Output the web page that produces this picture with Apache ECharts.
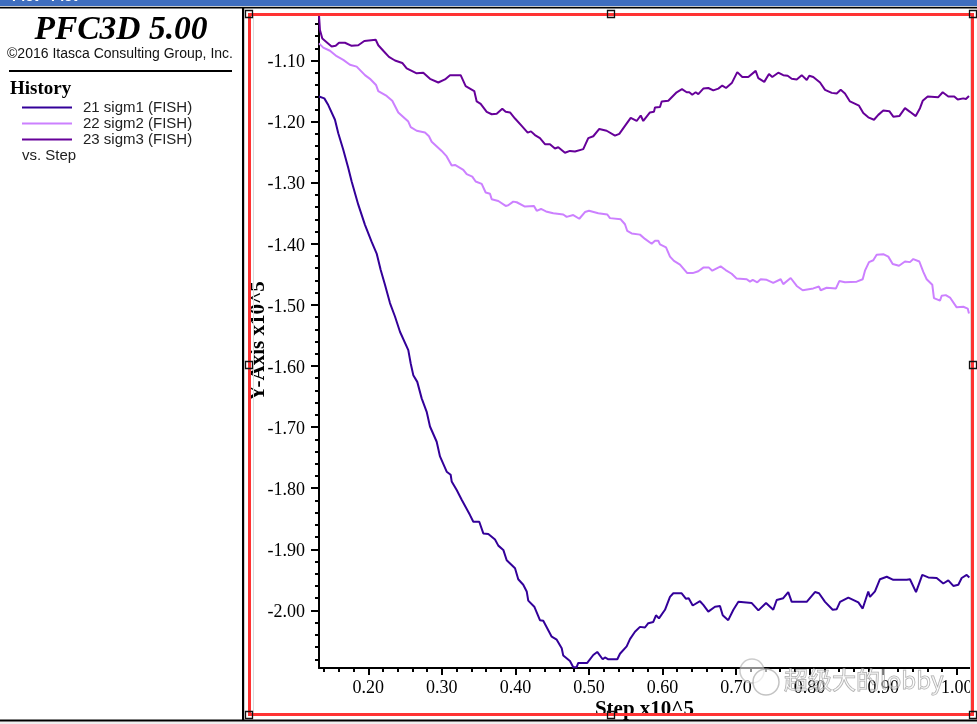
<!DOCTYPE html>
<html><head><meta charset="utf-8">
<style>html,body{margin:0;padding:0;background:#fff}#c{width:977px;height:724px}</style>
<script src="https://cdn.jsdelivr.net/npm/echarts@6/dist/echarts.min.js"></script>
</head><body><div id="c"></div>
<script>
const seriesNames = ['21 sigm1 (FISH)','22 sigm2 (FISH)','23 sigm3 (FISH)'];
const seriesColors = ['#330099','#cc80ff','#660099'];
const xMajorTicks = [0.2,0.3,0.4,0.5,0.6,0.7,0.8,0.9,1.0];
const xMinorTicks = [0.14,0.16,0.18,0.22,0.24,0.26,0.28,0.32,0.34,0.36,0.38,0.42,0.44,0.46,0.48,0.52,0.54,0.56,0.58,0.62,0.64,0.66,0.68,0.72,0.74,0.76,0.78,0.82,0.84,0.86,0.88,0.92,0.94,0.96,0.98,1.0];
const yMajorTicks = [-1.1,-1.2,-1.3,-1.4,-1.5,-1.6,-1.7,-1.8,-1.9,-2.0];
const yMinorTicks = [-1.04,-1.06,-1.08,-1.12,-1.14,-1.16,-1.18,-1.22,-1.24,-1.26,-1.28,-1.32,-1.34,-1.36,-1.38,-1.42,-1.44,-1.46,-1.48,-1.52,-1.54,-1.56,-1.58,-1.62,-1.64,-1.66,-1.68,-1.72,-1.74,-1.76,-1.78,-1.82,-1.84,-1.86,-1.88,-1.92,-1.94,-1.96,-1.98,-2.02,-2.04,-2.06,-2.08];

const sigm1Steps = [.133,.1402,.1456,.1547,.1592,.166,.1728,.1774,.1864,.1955,.2046,.2114,.2169,.2227,.2295,.2363,.2431,.2544,.2577,.2612,.2666,.2726,.2794,.2839,.293,.2975,.3066,.312,.3134,.3202,.327,.3383,.3428,.3509,.3564,.3632,.3723,.3768,.3836,.3882,.3995,.4039,.4107,.4154,.4175,.4257,.4334,.4379,.4494,.4562,.463,.4651,.4742,.4787,.4833,.4855,.4977,.5059,.5113,.5187,.5218,.5264,.5386,.5422,.5513,.5558,.5626,.5694,.5762,.5807,.5875,.5912,.5952,.6034,.6102,.6147,.6261,.632,.6356,.6411,.651,.6555,.6623,.6714,.6782,.6819,.6894,.6964,.7032,.7214,.7304,.7408,.7506,.7553,.7642,.771,.7757,.7961,.8073,.8128,.821,.8314,.8369,.8414,.8527,.8663,.8722,.8798,.8821,.8889,.8957,.9049,.9138,.9321,.9365,.9447,.9532,.9614,.9728,.9818,.9886,.9954,1.0022,1.0068,1.0136,1.0172];
const sigm1Values = [-1.159,-1.162,-1.173,-1.197,-1.219,-1.246,-1.276,-1.298,-1.336,-1.369,-1.397,-1.416,-1.443,-1.467,-1.497,-1.519,-1.544,-1.574,-1.596,-1.615,-1.626,-1.653,-1.675,-1.699,-1.724,-1.748,-1.773,-1.778,-1.789,-1.803,-1.819,-1.844,-1.855,-1.855,-1.874,-1.875,-1.884,-1.894,-1.901,-1.918,-1.931,-1.949,-1.958,-1.969,-1.984,-1.994,-2.016,-2.017,-2.043,-2.048,-2.062,-2.074,-2.083,-2.093,-2.093,-2.086,-2.086,-2.073,-2.068,-2.08,-2.077,-2.08,-2.08,-2.071,-2.059,-2.047,-2.035,-2.027,-2.028,-2.021,-2.019,-2.008,-2.013,-1.999,-1.978,-1.972,-1.972,-1.981,-1.98,-1.992,-1.985,-1.991,-2.002,-1.994,-1.993,-2.008,-2.016,-1.999,-1.986,-1.988,-2,-1.988,-1.999,-1.983,-1.98,-1.97,-1.986,-1.986,-1.97,-1.972,-1.986,-1.999,-1.998,-1.986,-1.979,-1.987,-1.997,-1.969,-1.978,-1.969,-1.949,-1.945,-1.95,-1.95,-1.949,-1.97,-1.942,-1.946,-1.947,-1.956,-1.951,-1.96,-1.958,-1.947,-1.942,-1.946];

const sigm2Steps = [.133,.1388,.1479,.157,.166,.1751,.1842,.1955,.2023,.2105,.2136,.225,.2326,.2408,.2544,.2577,.2658,.2771,.2825,.2862,.2998,.3066,.3134,.3179,.3292,.3338,.3414,.346,.3542,.3596,.3655,.3678,.3768,.3868,.3903,.3971,.4018,.413,.4253,.429,.4348,.4416,.4515,.4651,.4697,.4787,.4869,.4946,.5001,.5127,.525,.5286,.5432,.549,.5521,.5581,.5694,.5762,.5853,.5898,.5943,.5966,.6048,.6102,.6156,.6238,.6337,.6411,.6487,.6555,.6632,.6677,.6791,.6859,.6941,.7009,.7145,.719,.7227,.7289,.7335,.7417,.7506,.7607,.7642,.7743,.7825,.7906,.805,.8128,.8151,.8232,.8359,.8404,.8481,.8641,.8722,.8753,.8808,.8866,.8912,.9002,.907,.913,.9216,.9297,.9365,.941,.9492,.9546,.9592,.9668,.9691,.9773,.9796,.9851,.9909,1,1.009,1.015,1.0167];
const sigm2Values = [-1.072,-1.079,-1.084,-1.093,-1.099,-1.107,-1.11,-1.124,-1.13,-1.14,-1.15,-1.158,-1.166,-1.185,-1.2,-1.209,-1.215,-1.218,-1.224,-1.233,-1.248,-1.257,-1.272,-1.271,-1.279,-1.286,-1.29,-1.298,-1.302,-1.316,-1.318,-1.327,-1.33,-1.338,-1.337,-1.331,-1.332,-1.339,-1.338,-1.346,-1.343,-1.347,-1.35,-1.352,-1.356,-1.353,-1.359,-1.348,-1.346,-1.35,-1.352,-1.358,-1.36,-1.368,-1.379,-1.383,-1.385,-1.392,-1.4,-1.395,-1.395,-1.401,-1.406,-1.421,-1.428,-1.434,-1.448,-1.448,-1.445,-1.439,-1.439,-1.444,-1.437,-1.443,-1.449,-1.457,-1.458,-1.462,-1.459,-1.463,-1.458,-1.459,-1.464,-1.458,-1.466,-1.456,-1.469,-1.476,-1.473,-1.47,-1.476,-1.472,-1.473,-1.461,-1.463,-1.462,-1.458,-1.444,-1.43,-1.427,-1.418,-1.417,-1.421,-1.433,-1.436,-1.429,-1.43,-1.425,-1.429,-1.446,-1.458,-1.467,-1.489,-1.493,-1.485,-1.484,-1.488,-1.504,-1.503,-1.506,-1.514];

const sigm3Steps = [.133,.1343,.1375,.1434,.1502,.1557,.1602,.1683,.1774,.1864,.1946,.2101,.2136,.2204,.2281,.2363,.2462,.2522,.259,.2658,.2748,.2839,.2952,.3043,.3111,.3256,.3324,.3441,.3474,.3528,.361,.3678,.3746,.3822,.3868,.3927,.3995,.4086,.4167,.4212,.4266,.4334,.4402,.447,.4538,.4583,.4674,.4742,.481,.4923,.4991,.5059,.5141,.5241,.5354,.5413,.549,.5568,.5649,.5704,.5739,.583,.5884,.5898,.5966,.5989,.6079,.6193,.6265,.6329,.6364,.6405,.6451,.6487,.6555,.6623,.6691,.6759,.6813,.6864,.6942,.7017,.7085,.7167,.7267,.7303,.7384,.7448,.7493,.7574,.7642,.7702,.7757,.7825,.7893,.7961,.7996,.805,.8142,.821,.8301,.8369,.8423,.8481,.8549,.8672,.873,.8798,.8876,.8934,.9002,.9084,.9138,.922,.9297,.9365,.9443,.9501,.9538,.9606,.975,.981,.9886,.9967,1.0014,1.009,1.0126,1.0167];
const sigm3Values = [-1.0255,-1.05,-1.064,-1.07,-1.077,-1.076,-1.071,-1.071,-1.076,-1.075,-1.068,-1.066,-1.075,-1.084,-1.094,-1.1,-1.104,-1.113,-1.117,-1.121,-1.12,-1.13,-1.136,-1.131,-1.124,-1.124,-1.142,-1.15,-1.167,-1.171,-1.184,-1.188,-1.187,-1.179,-1.184,-1.185,-1.195,-1.207,-1.218,-1.216,-1.222,-1.227,-1.237,-1.237,-1.244,-1.242,-1.251,-1.248,-1.249,-1.245,-1.227,-1.224,-1.212,-1.215,-1.223,-1.22,-1.207,-1.194,-1.199,-1.19,-1.199,-1.185,-1.184,-1.177,-1.176,-1.167,-1.166,-1.152,-1.147,-1.152,-1.152,-1.156,-1.152,-1.155,-1.146,-1.145,-1.149,-1.146,-1.141,-1.145,-1.137,-1.119,-1.127,-1.127,-1.117,-1.129,-1.135,-1.122,-1.127,-1.12,-1.124,-1.125,-1.13,-1.131,-1.124,-1.132,-1.125,-1.127,-1.136,-1.148,-1.153,-1.154,-1.148,-1.154,-1.167,-1.174,-1.186,-1.193,-1.197,-1.189,-1.182,-1.183,-1.192,-1.191,-1.178,-1.184,-1.191,-1.178,-1.166,-1.159,-1.16,-1.152,-1.159,-1.159,-1.164,-1.162,-1.163,-1.158];

const seriesSteps = [sigm1Steps,sigm2Steps,sigm3Steps];
const seriesValues = [sigm1Values,sigm2Values,sigm3Values];

const xRange = [0.133,1.0181], yRange = [-2.0943,-1.0239];
const serif = '"Liberation Serif","Times New Roman",serif';
const sans = '"Liberation Sans",Arial,sans-serif';

function rect(x,y,w,h,fill){return {type:'rect',silent:true,shape:{x,y,width:w,height:h},style:{fill},z:1};}
function txt(x,y,text,font,fill,align,extra){return {type:'text',silent:true,x,y,z:20,style:Object.assign({text,font,fill:fill||'#000',align:align||'left',verticalAlign:'middle'},extra||{})};}
function handle(x,y){return {type:'rect',silent:true,z:30,shape:{x:x-3.5,y:y-3.5,width:7,height:7},style:{fill:'rgba(255,255,255,0)',stroke:'#111',lineWidth:1.3}};}

const graphics = [
  rect(0,0,977,6,'#3f6ebf'), rect(0,6,977,1,'#c8c8c8'), rect(0,7,977,1.6,'#000'),
  txt(12,-3,'Plot - Plot','bold 14px '+sans,'#fff'),
  rect(0,721.5,977,2.5,'#f0f0f0'), rect(0,719.5,977,2,'#000'),
  rect(242,8,2.2,712,'#000'),
  rect(253,15,1,699,'#dcdcdc'), rect(970,15,1,699,'#dcdcdc'),
  {type:'rect',silent:true,z:25,shape:{x:249.5,y:14.5,width:723,height:700},style:{fill:'rgba(0,0,0,0)',stroke:'#ff3333',lineWidth:3}},
  handle(249,14),handle(611,14),handle(973,14),handle(249,365),handle(973,365),handle(249,715),handle(611,715),handle(973,715),
  txt(121,30,'PFC3D 5.00','italic bold 33.5px '+serif,'#000','center'),
  txt(120,54,'©2016 Itasca Consulting Group, Inc.','14px '+sans,'#111','center'),
  rect(9,70,223,2,'#000'),
  txt(10,89,'History','bold 19px '+serif,'#000'),
  txt(22,156,'vs. Step','15px '+sans,'#222'),
  // watermark
  {type:'circle',silent:true,z:40,shape:{cx:752,cy:671,r:12},style:{fill:'rgba(255,255,255,0.55)',stroke:'rgba(170,170,170,0.6)',lineWidth:1.5}},
  {type:'circle',silent:true,z:40,shape:{cx:766,cy:682,r:13},style:{fill:'rgba(255,255,255,0.65)',stroke:'rgba(170,170,170,0.7)',lineWidth:1.5}},
  txt(784,680,'超级大的lobby','24px "Noto Sans CJK SC"','rgba(255,255,255,0.45)','left',{stroke:'rgba(120,120,120,0.65)',lineWidth:1})
];

const axisFont = {fontFamily:serif,fontSize:18,color:'#000'};
const option = {
  animation:false,
  backgroundColor:'#fff',
  textStyle:{fontFamily:sans},
  grid:{left:319,right:7,top:14,bottom:56,containLabel:false,outerBoundsMode:'none'},
  legend:{
    orient:'vertical',left:21,top:100,itemWidth:50,itemHeight:14,itemGap:1,padding:0,
    data:seriesNames,selectedMode:false,itemStyle:{opacity:0},
    textStyle:{fontFamily:sans,fontSize:15,color:'#222',padding:[0,0,0,6]}
  },
  xAxis:[
    {type:'value',min:xRange[0],max:xRange[1],position:'bottom',splitLine:{show:false},
     name:'Step x10^5',nameLocation:'middle',nameGap:31,nameMoveOverlap:false,nameTextStyle:{fontFamily:serif,fontSize:21,fontWeight:'bold',color:'#000'},
     axisLine:{show:true,onZero:false,lineStyle:{color:'#000',width:2}},
     axisTick:{show:true,length:7,customValues:xMajorTicks,lineStyle:{color:'#000',width:2}},
     axisLabel:{show:true,margin:11,customValues:xMajorTicks,formatter:v=>v.toFixed(2),...axisFont}},
    {type:'value',min:xRange[0],max:xRange[1],position:'bottom',splitLine:{show:false},
     axisLine:{show:false,onZero:false},
     axisTick:{show:true,length:4,customValues:xMinorTicks,lineStyle:{color:'#000',width:2}},
     axisLabel:{show:false}}
  ],
  yAxis:[
    {type:'value',min:yRange[0],max:yRange[1],position:'left',splitLine:{show:false},
     name:'Y-Axis x10^5',nameLocation:'middle',nameGap:50,nameMoveOverlap:false,nameRotate:90,nameTextStyle:{fontFamily:serif,fontSize:21,fontWeight:'bold',color:'#000'},
     axisLine:{show:true,onZero:false,lineStyle:{color:'#000',width:2}},
     axisTick:{show:true,length:8,customValues:yMajorTicks,lineStyle:{color:'#000',width:2}},
     axisLabel:{show:true,margin:14,verticalAlign:'top',lineHeight:4,customValues:yMajorTicks,formatter:v=>v.toFixed(2),...axisFont}},
    {type:'value',min:yRange[0],max:yRange[1],position:'left',splitLine:{show:false},
     axisLine:{show:false,onZero:false},
     axisTick:{show:true,length:4,customValues:yMinorTicks,lineStyle:{color:'#000',width:2}},
     axisLabel:{show:false}}
  ],
  series:seriesNames.map((name,i)=>({
    name,type:'line',xAxisIndex:0,yAxisIndex:0,showSymbol:false,symbol:'none',smooth:false,
    lineStyle:{color:seriesColors[i],width:2},itemStyle:{color:seriesColors[i]},
    data:seriesSteps[i].map((s,j)=>[s,seriesValues[i][j]])
  })),
  graphic:{elements:graphics}
};
echarts.init(document.getElementById('c'),null,{renderer:'canvas'}).setOption(option);
</script></body></html>
